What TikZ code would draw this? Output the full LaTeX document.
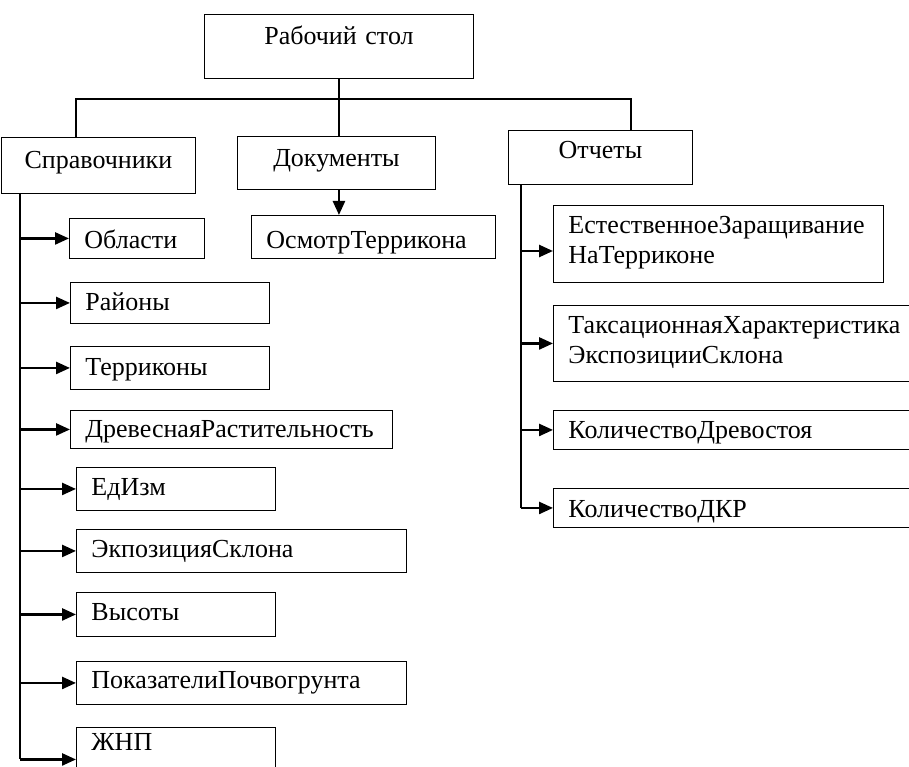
\documentclass[tikz,border=0pt]{standalone}
\usepackage{tikz}
\usetikzlibrary{positioning,arrows.meta}
\usepackage{fontspec}
\setmainfont{Liberation Serif}

\begin{document}
\begin{tikzpicture}[x=1pt, y=-1pt,
				every node/.style={font=\fontsize{26}{30}\selectfont},
				topbox/.style={draw, line width=0.9pt, anchor=north west, inner sep=0pt, align=center},
				leaf/.style={draw, line width=0.9pt, anchor=north west, inner xsep=15pt, inner ysep=0pt, align=left},
				arr/.style={line width=2.5pt, -{Triangle[length=14pt,width=12pt]}},
				trunk/.style={line width=1.6pt}
				]
				\useasboundingbox (0,0) rectangle (909,767);
				\node[topbox, text width=269pt, text height=30pt, text depth=34pt] (rab) at (204,14) {Рабочий стол};
				\node[topbox, text width=194pt, text height=31pt, text depth=25pt] (spr) at (1,137) {Справочники};
				\node[topbox, text width=198pt, text height=30pt, text depth=23pt] (doc) at (237,136) {Документы};
				\node[topbox, text width=184pt, text height=28pt, text depth=26pt] (otch) at (508,130) {Отчеты};
				\node[leaf, text width=214pt, text height=33pt, text depth=10pt] (osm) at (251,215) {ОсмотрТеррикона};
				\node[leaf, text width=105pt, text height=30pt, text depth=10pt] (obl) at (69,218) {Области};
				\node[leaf, text width=169pt, text height=28pt, text depth=13pt] (rai) at (70,282) {Районы};
				\node[leaf, text width=169pt, text height=29pt, text depth=14pt] (ter) at (70,346) {Терриконы};
				\node[leaf, text width=292pt, text height=27pt, text depth=11pt] (drev) at (70,410) {ДревеснаяРастительность};
				\node[leaf, text width=169pt, text height=28pt, text depth=15pt] (ediz) at (76,467) {ЕдИзм};
				\node[leaf, text width=300pt, text height=28pt, text depth=15pt] (ekp) at (76,529) {ЭкпозицияСклона};
				\node[leaf, text width=169pt, text height=28pt, text depth=16pt] (vys) at (76,592) {Высоты};
				\node[leaf, text width=300pt, text height=27pt, text depth=16pt] (pok) at (76,661) {ПоказателиПочвогрунта};
				\node[leaf, text width=169pt, text height=23pt, text depth=41pt] (zhnp) at (76,727) {ЖНП};
				\node[leaf, text width=300pt, text height=28pt, text depth=49pt] (est) at (553,205) {ЕстественноеЗаращивание\\НаТерриконе};
				\node[leaf, text width=350pt, text height=28pt, text depth=48pt] (tax) at (553,305) {ТаксационнаяХарактеристика\\ЭкспозицииСклона};
				\node[leaf, text width=350pt, text height=28pt, text depth=11pt] (kold) at (553,410) {КоличествоДревостоя};
				\node[leaf, text width=350pt, text height=29pt, text depth=10pt] (kdkr) at (553,488) {КоличествоДКР};
				\coordinate (bus) at (0,99);
				\coordinate (sprTop) at ([xshift=75pt]spr.north west);
				\coordinate (otchTop) at ([xshift=123pt]otch.north west);
				\coordinate (sprTrunk) at ([xshift=19pt]spr.south west);
				\coordinate (otchTrunk) at ([xshift=13pt]otch.south west);
				\draw[line width=1.1pt] (rab.south) -- (rab.south |- doc.north);
				\draw[line width=1.1pt] (sprTop) -- (sprTop |- bus) -| (otchTop);
				\draw[arr] (rab.south |- doc.south) -- (rab.south |- osm.north);
				\draw[trunk] (sprTrunk) -- (sprTrunk |- zhnp.west);
				\foreach \n in {obl,rai,ter,drev,ediz,ekp,vys,pok,zhnp}
					\draw[arr] (sprTrunk |- \n.west) -- (\n.west);
				\draw[trunk] (otchTrunk) -- (otchTrunk |- kdkr.west);
				\draw[arr] (otchTrunk |- 0,251) -- (est.west |- 0,251);
				\foreach \n in {tax,kold,kdkr}
					\draw[arr] (otchTrunk |- \n.west) -- (\n.west);
			\end{tikzpicture}
\end{document}
